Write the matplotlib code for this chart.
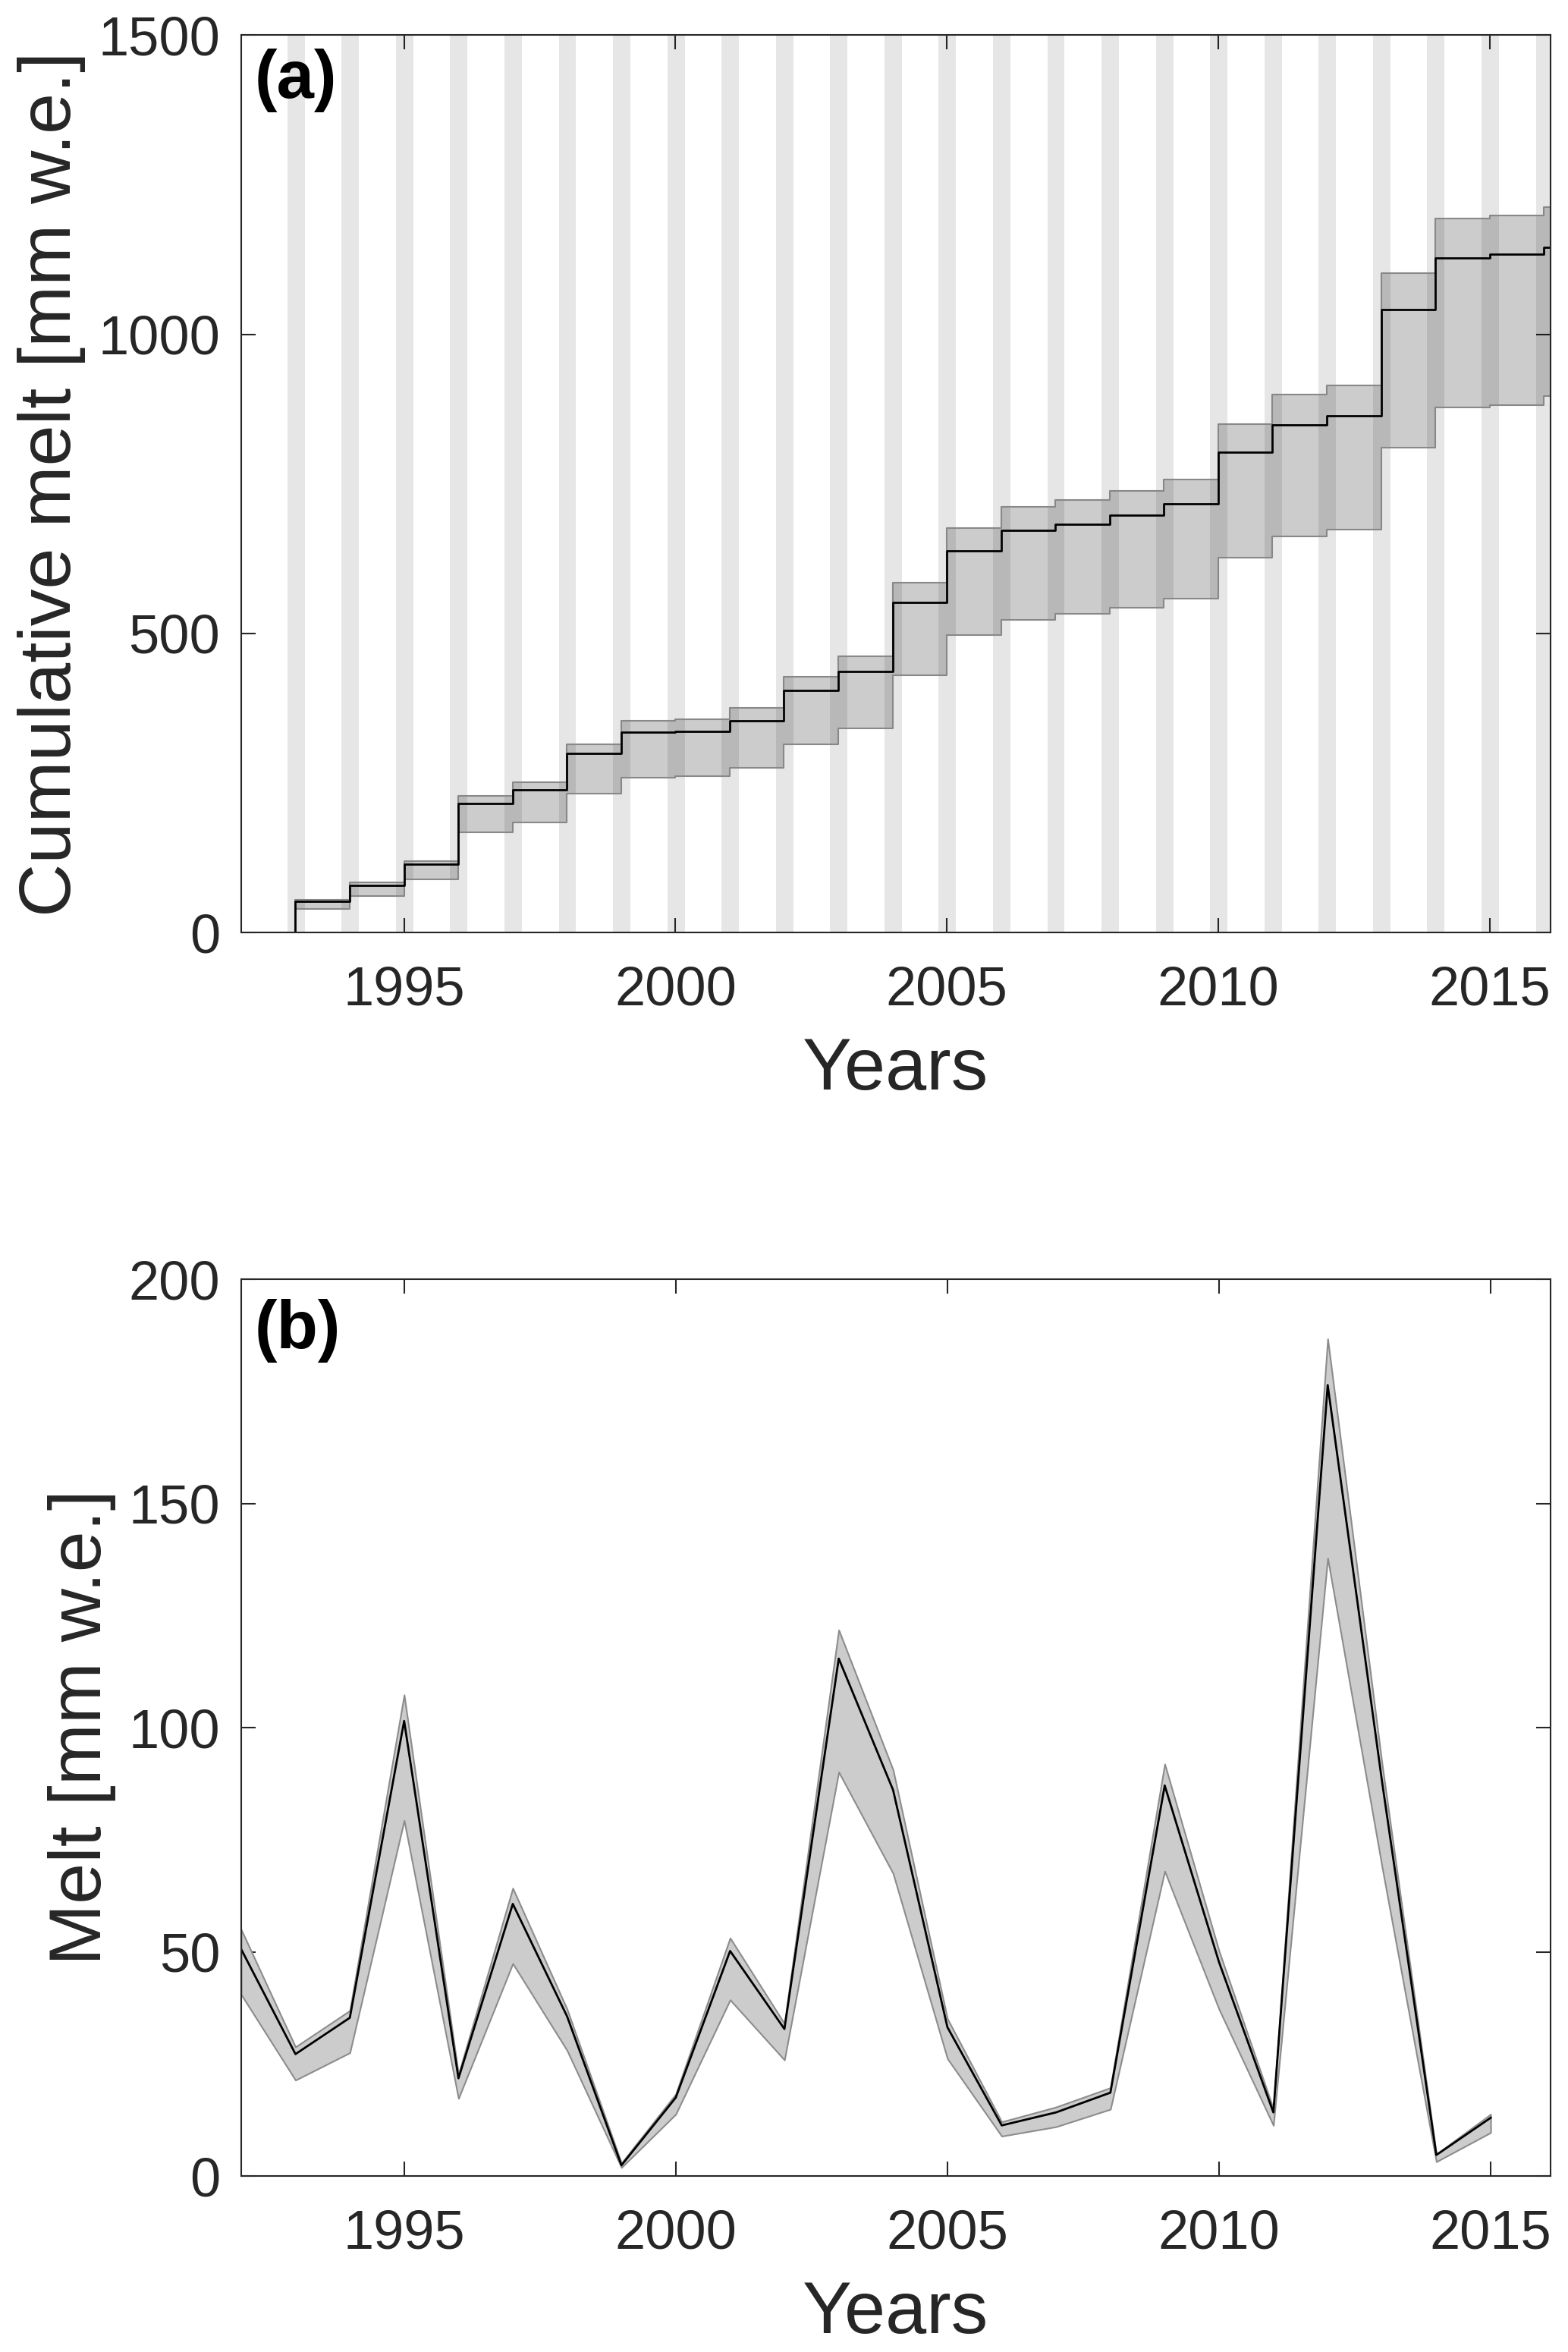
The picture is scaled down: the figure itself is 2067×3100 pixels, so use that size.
import matplotlib
matplotlib.use('Agg')
import matplotlib.pyplot as plt
import numpy as np

plt.rcParams['font.family'] = ['Liberation Sans', 'DejaVu Sans']

# (a) cumulative melt, level reached after each melt season
cum_years = [1992.25, 1993, 1994, 1995, 1996, 1997, 1998, 1999, 2000, 2001, 2002, 2003,
             2004, 2005, 2006, 2007, 2008, 2009, 2010, 2011, 2012, 2013, 2014, 2015, 2016]
cum_mid = [0, 52, 79, 114, 216, 238, 299, 335, 336, 354, 405, 437,
           552, 638, 672, 682, 697, 716, 803, 849, 864, 1041, 1128, 1134, 1145]
cum_hi = [0, 55, 84, 120, 228, 251, 315, 354, 356, 375, 428, 462,
          585, 676, 711, 723, 738, 757, 850, 899, 915, 1102, 1194, 1199, 1213]
cum_lo = [0, 39, 61, 89, 167, 184, 232, 259, 262, 275, 315, 341,
          430, 497, 523, 533, 543, 558, 626, 662, 674, 811, 878, 882, 897]
cum_end = 2016.15

# summer seasons (shaded)
season_years = list(range(1993, 2017))

# (b) annual melt
years = list(range(1992, 2016))
melt_mid = [50.6, 27.2, 35.3, 101.5, 21.8, 60.7, 35.6, 2.4, 17.5, 50.2, 32.8, 115.4,
            86.1, 33.2, 11.3, 14.2, 18.6, 87.1, 47.7, 14.2, 176.4, 88.0, 4.7, 13.0]
melt_hi = [55.0, 28.8, 36.9, 107.3, 22.7, 64.2, 37.2, 2.9, 18.3, 53.1, 34.0, 121.8,
           90.6, 35.1, 12.1, 15.4, 19.7, 91.9, 50.2, 15.0, 186.7, 92.0, 4.9, 13.8]
melt_lo = [40.5, 21.4, 27.5, 79.3, 17.3, 47.4, 28.0, 1.9, 13.8, 39.3, 25.9, 90.1,
           67.5, 26.2, 8.9, 11.0, 14.9, 68.0, 37.2, 11.3, 137.8, 69.0, 3.2, 9.7]

txt = '#262626'

fig = plt.figure(figsize=(20.67, 31), dpi=100)
ax1 = fig.add_axes([0.1538, 0.6035, 0.835, 0.3816])
ax2 = fig.add_axes([0.1538, 0.0748, 0.835, 0.3813])

# ---- panel a
for y in season_years:
    ax1.axvspan(y - 0.15, y + 0.17, color='#e6e6e6', lw=0, zorder=0)

x = np.append(cum_years, cum_end)
mid = np.append(cum_mid, cum_mid[-1])
hi = np.append(cum_hi, cum_hi[-1])
lo = np.append(cum_lo, cum_lo[-1])
ax1.fill_between(x, lo, hi, step='post', facecolor=(0, 0, 0, 0.2),
                 edgecolor='#888888', lw=1.5, zorder=2)
ax1.step(x, mid, where='post', color='k', lw=2, zorder=3)

ax1.set_xlim(1992, 2016.12)
ax1.set_ylim(0, 1500)
ax1.set_yticks([0, 500, 1000, 1500])
ax1.set_xlabel('Years', fontsize=70, color=txt, labelpad=19)
ax1.set_ylabel('Cumulative melt [mm w.e.]', fontsize=70, color=txt, labelpad=12)
ax1.text(0.01, 0.985, '(a)', transform=ax1.transAxes, fontsize=64,
         fontweight='bold', va='top', ha='left', zorder=5)

# ---- panel b
ax2.fill_between(years, melt_lo, melt_hi, facecolor='#cccccc',
                 edgecolor='#8c8c8c', lw=1.5, zorder=2)
ax2.plot(years, melt_mid, color='k', lw=2, zorder=3)
ax2.set_xlim(1992, 2016.1)
ax2.set_ylim(0, 200)
ax2.set_yticks([0, 50, 100, 150, 200])
ax2.set_xlabel('Years', fontsize=70, color=txt, labelpad=19)
ax2.set_ylabel('Melt [mm w.e.]', fontsize=70, color=txt, labelpad=12)
ax2.text(0.01, 0.978, '(b)', transform=ax2.transAxes, fontsize=64,
         fontweight='bold', va='top', ha='left', zorder=5)

for ax in (ax1, ax2):
    ax.set_xticks([1995, 2000, 2005, 2010, 2015])
    ax.tick_params(direction='in', length=14, width=1.5, top=True, right=True,
                   labelsize=52, colors=txt)
    ax.tick_params(axis='x', pad=31)
    ax.tick_params(axis='y', pad=20)
    for s in ax.spines.values():
        s.set_linewidth(1.5)
        s.set_color(txt)
        s.set_zorder(6)

fig.savefig('out.png', dpi=100)
